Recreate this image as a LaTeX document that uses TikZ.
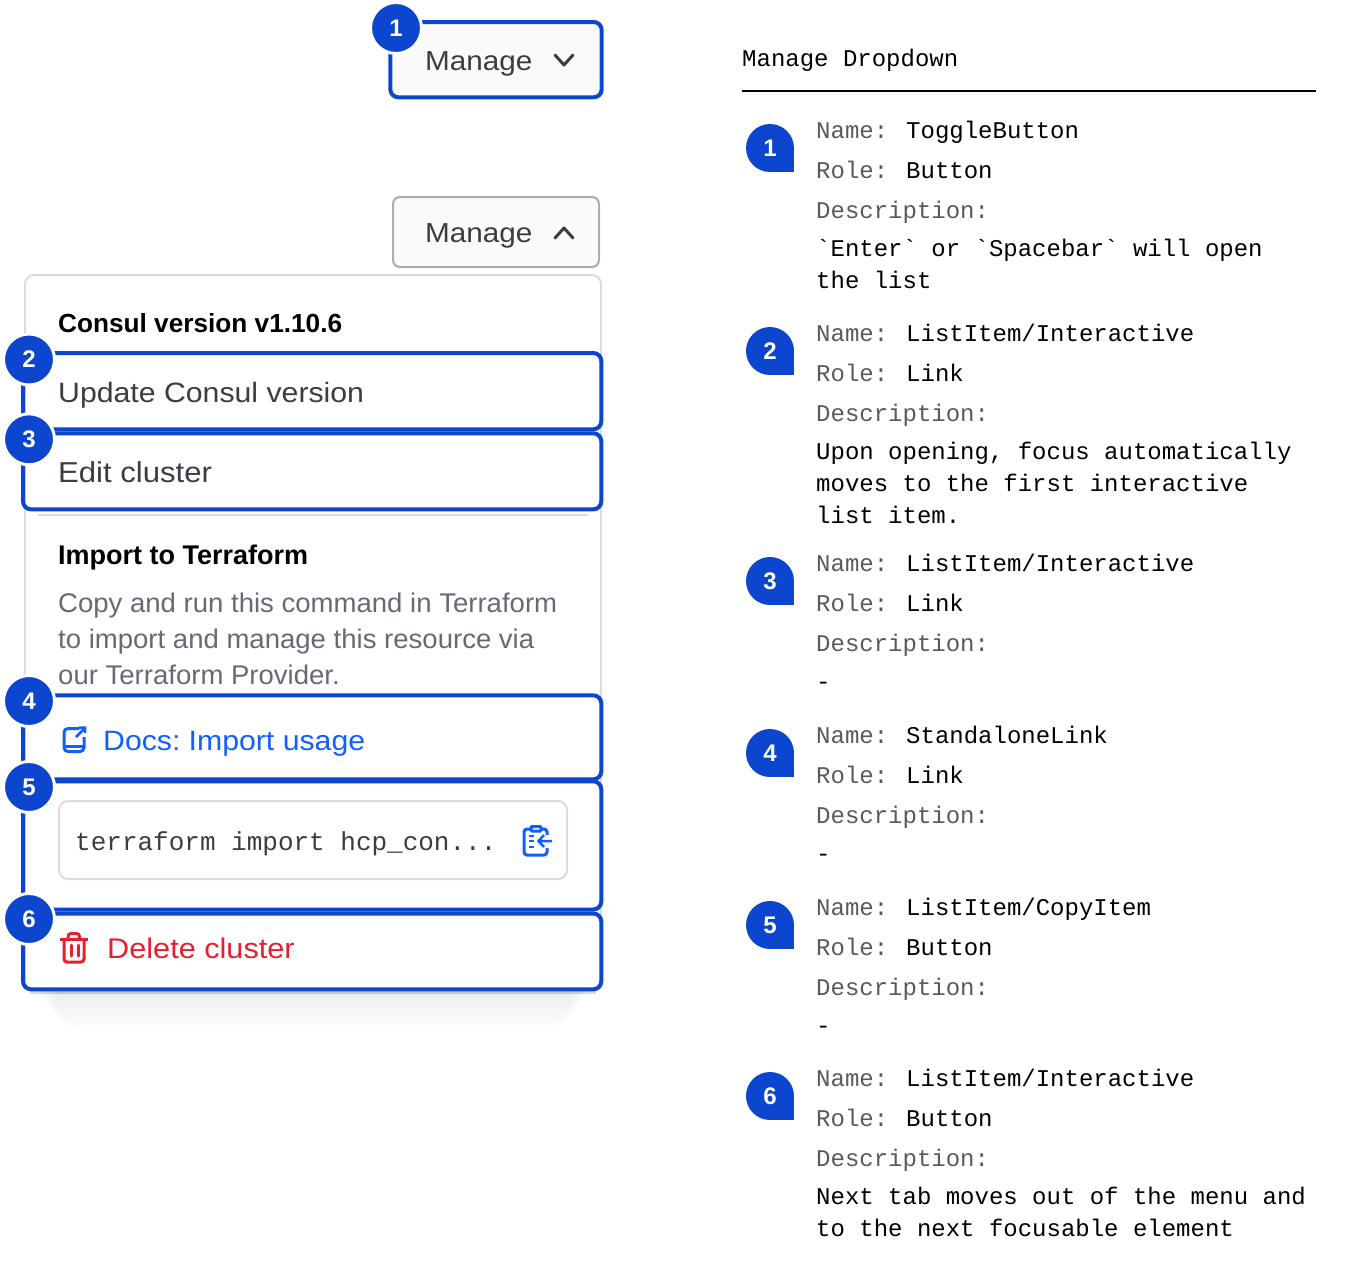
\documentclass[tikz,border=0pt]{standalone}
\usepackage{fontspec}
\setmainfont{Liberation Sans}
\setmonofont{Liberation Mono}
\newfontfamily\itemface{Liberation Sans}[FakeStretch=1.08]
\newfontfamily\bodyface{Liberation Sans}[FakeStretch=1.02]
\definecolor{markblue}{HTML}{0C46CE}
\definecolor{linkblue}{HTML}{1060FF}
\definecolor{alertred}{HTML}{E5202E}
\definecolor{inktext}{HTML}{3B3D45}
\definecolor{greytext}{HTML}{656A76}
\definecolor{keytext}{HTML}{5A5A5A}
\definecolor{edgegrey}{HTML}{DCDCE0}
\definecolor{togglefill}{HTML}{FAFAFA}
\newcommand{\menufont}[1]{\fontsize{#1}{#1}\selectfont}
\tikzset{
    x=1pt, y=-1pt,
    focusbox/.style={draw=markblue, line width=4pt, rounded corners=8pt},
    togglebox/.style={draw=black!32, line width=2pt, fill=togglefill, rounded corners=7pt},
    menutext/.style={anchor=base west, inner sep=0pt, font=\itemface\menufont{28}, text=inktext},
    headtext/.style={anchor=base west, inner sep=0pt, font=\menufont{27}\bfseries, text=black},
    bodytext/.style={anchor=base west, inner sep=0pt, font=\bodyface\menufont{27}, text=greytext},
    keytxt/.style={anchor=base west, inner sep=0pt, font=\ttfamily\menufont{24}, text=keytext},
    valtxt/.style={anchor=base west, inner sep=0pt, font=\ttfamily\menufont{24}, text=black},
    badge/.style={circle, fill=markblue, draw=white, line width=3pt, minimum size=51pt, inner sep=0pt,
        font=\menufont{24}\bfseries, text=white},
    chevron/.style={draw=inktext, line width=3pt, line cap=round, line join=round},
}
\begin{document}
\begin{tikzpicture}
    \useasboundingbox (0,0) rectangle (1361,1282);
    % toggle, closed
    \fill [togglefill, rounded corners=4pt] (396,27) rectangle (596,92);
    \draw [focusbox] (390.3,22) rectangle (601.7,97.3);
    \node [menutext, font=\itemface\menufont{27.5}] (closedlabel) at (425,70) {Manage};
    \draw [chevron] (555,55) -- (564,65) -- (573,55);
    % toggle, open
    \draw [togglebox] (393,197) rectangle (599,267);
    \node [menutext, font=\itemface\menufont{27.5}] (openlabel) at (425,242) {Manage};
    \draw [chevron] (555,238) -- (564,228) -- (573,238);
    % shadow under the menu
    \fill [black, opacity=0.15] (30,300) rectangle (596,994);
    \foreach \i in {1,...,20}
        \fill [black, opacity=0.003, rounded corners=20pt] (28+1.5*\i,300) rectangle (598-1.5*\i,990+2*\i);
    % menu
    \draw [fill=white, draw=edgegrey, line width=2pt, rounded corners=9pt] (25,275) rectangle (601,990);
    \draw [edgegrey, line width=2pt] (38,515) -- (588,515);
    \node [headtext, font=\menufont{26.2}\bfseries] (versionhead) at (58,332) {Consul version v1.10.6};
    \node [menutext] (updateitem) at (58,402) {Update Consul version};
    \node [menutext, font=\itemface\menufont{28.8}] (edititem) at (58,482) {Edit cluster};
    \node [headtext] (importhead) at (58,564) {Import to Terraform};
    \node [bodytext] (importone) at (58,612) {Copy and run this command in Terraform};
    \node [bodytext] (importtwo) at (58,648) {to import and manage this resource via};
    \node [bodytext] (importthree) at (58,684) {our Terraform Provider.};
    % focus rings
    \draw [focusbox] (23,353) rectangle (601.3,429.3);
    \draw [focusbox] (23,433.3) rectangle (601.3,509.3);
    \draw [focusbox] (23,695.3) rectangle (601.3,779.3);
    \draw [focusbox] (23,781.3) rectangle (601.3,909.5);
    \draw [focusbox] (23,913.5) rectangle (601.3,989.3);
    % docs link
    \draw [linkblue, line width=3pt, rounded corners=4pt] (79,728.5) -- (64,728.5) -- (64,751.5) -- (84,751.5) -- (84,737);
    \draw [linkblue, line width=3pt] (64,746) -- (84,746);
    \draw [linkblue, line width=2.5pt] (76,737) -- (85,728) (79,727.5) -- (85,727.5) -- (85,733);
    \node [menutext, text=linkblue] (docsitem) at (103,750) {Docs:\kern-3pt{} Import usage};
    % copy snippet
    \draw [fill=white, draw=edgegrey, line width=2pt, rounded corners=9pt] (59,801) rectangle (567,879);
    \node [anchor=base west, inner sep=0pt, font=\ttfamily\menufont{26}, text=inktext] (snippet) at (75,850) {terraform import hcp\_con...};
    \draw [linkblue, line width=3pt, rounded corners=3pt] (530,829) -- (524,829) -- (524,855) -- (547,855) -- (547,848);
    \draw [linkblue, line width=3pt, rounded corners=3pt] (541,829) -- (547,829) -- (547,835);
    \draw [linkblue, line width=3pt, rounded corners=1pt] (531,826.5) rectangle (541,831);
    \draw [linkblue, line width=2.5pt] (528.5,836) -- (534,836) (528.5,841) -- (534,841) (528.5,847) -- (534,847);
    \draw [linkblue, line width=2.5pt] (552,841) -- (538.5,841) (544,835) -- (538.5,841) -- (544,847);
    % delete item
    \draw [alertred, line width=3pt] (60,939) -- (87.7,939);
    \draw [alertred, line width=3pt, rounded corners=3pt] (64,939) -- (64,962) -- (84,962) -- (84,939);
    \draw [alertred, line width=3pt, rounded corners=3pt] (68,939) -- (68,933.5) -- (79.5,933.5) -- (79.5,939);
    \draw [alertred, line width=3pt, line cap=round] (71,945) -- (71,956) (78,945) -- (78,956);
    \node [menutext, font=\itemface\menufont{28.4}, text=alertred] (deleteitem) at (107,958) {Delete cluster};
    % left badges
    \node [badge] (markA) at (396,28) {1};
    \node [badge] (markB) at (29,359.5) {2};
    \node [badge] (markC) at (29,439.3) {3};
    \node [badge] (markD) at (29,701) {4};
    \node [badge] (markE) at (29,787) {5};
    \node [badge] (markF) at (29,919) {6};
    % right column
    \node [valtxt] (panelhead) at (742,66) {Manage Dropdown};
    \draw [black, line width=2pt] (742,91) -- (1316,91);
    \foreach \num/\ypos/\nm/\rl in {%
        1/138/ToggleButton/Button,
        2/341/ListItem\slash Interactive/Link,
        3/571/ListItem\slash Interactive/Link,
        4/743/StandaloneLink/Link,
        5/915/ListItem\slash CopyItem/Button,
        6/1086/ListItem\slash Interactive/Button} {
        \fill [markblue] (770,\ypos+10) circle [radius=24];
        \fill [markblue] (770,\ypos+10) rectangle (794,\ypos+34);
        \node [inner sep=0pt, font=\menufont{24}\bfseries, text=white] (tag\num) at (770,\ypos+10) {\num};
        \node [keytxt] (name\num) at (816,\ypos) {Name:};
        \node [valtxt] (nameval\num) at (906,\ypos) {\nm};
        \node [keytxt] (role\num) at (816,\ypos+40) {Role:};
        \node [valtxt] (roleval\num) at (906,\ypos+40) {\rl};
        \node [keytxt] (desc\num) at (816,\ypos+80) {Description:};
    }
    \node [valtxt] (noteAa) at (816,256) {`Enter` or `Spacebar` will open};
    \node [valtxt] (noteAb) at (816,288) {the list};
    \node [valtxt] (noteBa) at (816,459) {Upon opening, focus automatically};
    \node [valtxt] (noteBb) at (816,491) {moves to the first interactive};
    \node [valtxt] (noteBc) at (816,523) {list item.};
    \node [valtxt] (noteC) at (816,689) {-};
    \node [valtxt] (noteD) at (816,861) {-};
    \node [valtxt] (noteE) at (816,1033) {-};
    \node [valtxt] (noteFa) at (816,1204) {Next tab moves out of the menu and};
    \node [valtxt] (noteFb) at (816,1236) {to the next focusable element};
\end{tikzpicture}
\end{document}
